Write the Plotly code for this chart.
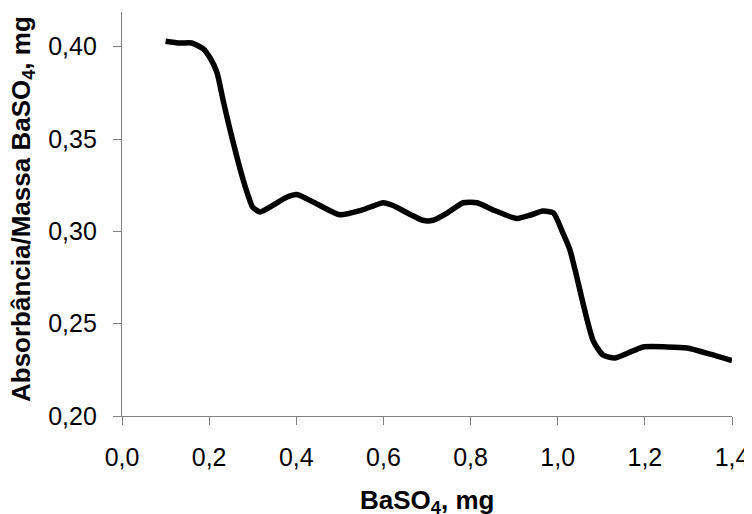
import plotly.graph_objects as go

x_vals = [0.100, 0.133, 0.160, 0.186, 0.202, 0.218, 0.232, 0.248, 0.264, 0.278, 0.290,
          0.300, 0.317, 0.335, 0.379, 0.401, 0.450, 0.500, 0.550, 0.600, 0.622, 0.690,
          0.714, 0.750, 0.783, 0.815, 0.852, 0.906, 0.940, 0.966, 0.990, 1.012, 1.028,
          1.040, 1.081, 1.104, 1.131, 1.160, 1.196, 1.250, 1.297, 1.350, 1.400]
y_vals = [0.403, 0.402, 0.402, 0.399, 0.394, 0.386, 0.371, 0.355, 0.340, 0.328, 0.319,
          0.313, 0.3105, 0.3125, 0.3186, 0.320, 0.3145, 0.309, 0.3115, 0.3155, 0.314, 0.306,
          0.306, 0.3105, 0.3155, 0.3155, 0.3116, 0.307, 0.309, 0.311, 0.310, 0.299, 0.290,
          0.279, 0.241, 0.233, 0.2314, 0.234, 0.2374, 0.2374, 0.2368, 0.2335, 0.230]

x_ticks = [0.0, 0.2, 0.4, 0.6, 0.8, 1.0, 1.2, 1.4]
x_tick_labels = ["0,0", "0,2", "0,4", "0,6", "0,8", "1,0", "1,2", "1,4"]
y_ticks = [0.20, 0.25, 0.30, 0.35, 0.40]
y_tick_labels = ["0,20", "0,25", "0,30", "0,35", "0,40"]

FONT = "Liberation Sans, Arial, sans-serif"
AX = "#808080"

fig = go.Figure()
fig.add_trace(go.Scatter(x=x_vals, y=y_vals, mode="lines",
                         line=dict(color="black", width=5.5, shape="spline", smoothing=0.6),
                         showlegend=False, hoverinfo="skip"))

fig.update_layout(
    width=744, height=506,
    margin=dict(l=114, r=20, t=4, b=98),
    paper_bgcolor="white", plot_bgcolor="white",
    font=dict(family=FONT, size=25, color="black"),
    xaxis=dict(range=[0, 1.4], tickvals=x_ticks, ticktext=x_tick_labels,
               showgrid=False, zeroline=False, showline=True, linecolor=AX, linewidth=1.3,
               ticks="outside", ticklen=8, tickcolor=AX, tickwidth=1.3,
               ticklabelstandoff=11, tickfont=dict(size=25, family=FONT)),
    yaxis=dict(range=[0.20, 0.4188], tickvals=y_ticks, ticktext=y_tick_labels,
               showgrid=False, zeroline=False, showline=True, linecolor=AX, linewidth=1.3,
               ticks="outside", ticklen=8, tickcolor=AX, tickwidth=1.3,
               ticklabelstandoff=11, tickfont=dict(size=25, family=FONT)),
    annotations=[
        dict(text="<b>BaSO<sub>4</sub>, mg</b>", xref="paper", yref="paper",
             x=0.5, y=0.0, yshift=-85, xanchor="center", yanchor="middle",
             showarrow=False, font=dict(size=26, family=FONT)),
        dict(text="<b>Absorbância/Massa BaSO<sub>4</sub>, mg</b>", xref="paper", yref="paper",
             x=0, xshift=-100, y=0.5, yshift=5, xanchor="center", yanchor="middle", textangle=-90,
             showarrow=False, font=dict(size=26, family=FONT)),
    ],
)

fig.write_html("out.html")
